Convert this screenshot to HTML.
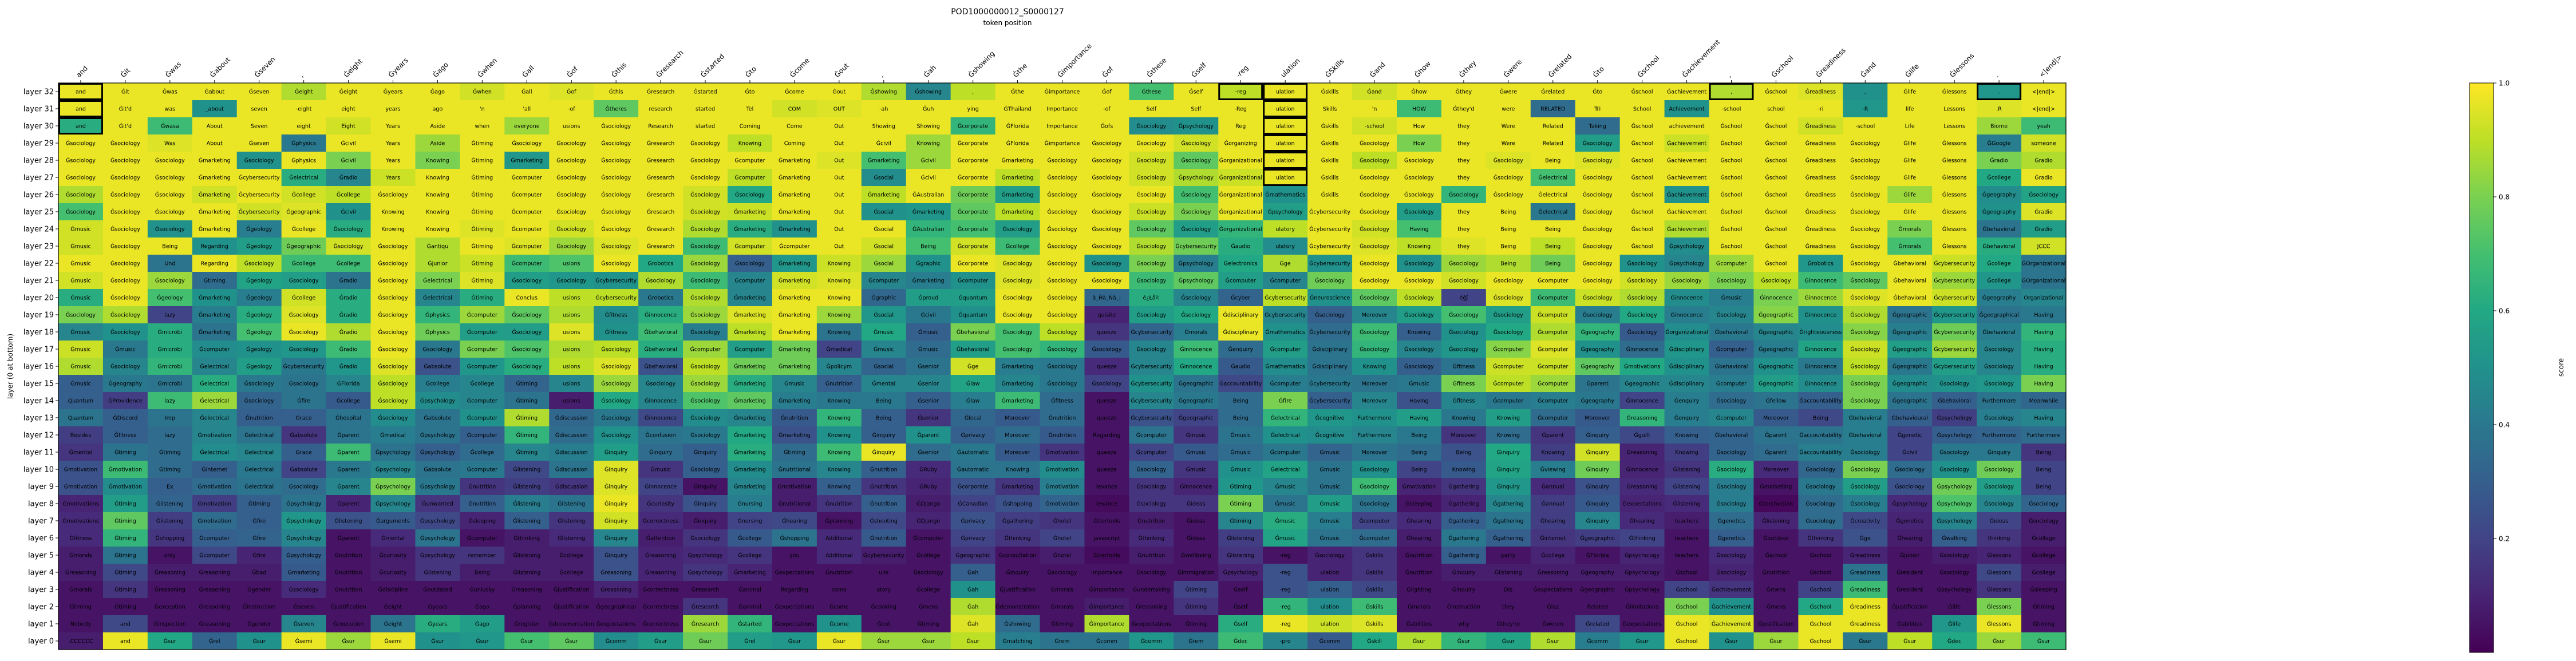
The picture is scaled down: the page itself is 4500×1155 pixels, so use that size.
<!DOCTYPE html>
<html><head><meta charset="utf-8">
<style>
html,body{margin:0;padding:0;background:#fff;}
svg{display:block;font-family:"DejaVu Sans","Liberation Sans","Noto Sans CJK SC",sans-serif;}
</style></head>
<body>
<svg id="chart" width="4500" height="1155" viewBox="0 0 4500 1155" xmlns="http://www.w3.org/2000/svg">
<text x="1760" y="25" font-size="14" text-anchor="middle">POD1000000012_S0000127</text>
<text x="1760" y="44" font-size="12" text-anchor="middle">token position</text>
<text x="0" y="0" font-size="12" text-anchor="middle" transform="translate(22,640) rotate(-90)">layer (0 at bottom)</text>
<g id="cells"></g>
<g id="boxes"></g>
<g id="xticks"></g>
<g id="yticks"></g>
<g id="cbar"></g>
</svg>
<script>
const columnLabels = ["and","Ġit","Ġwas","Ġabout","Ġseven",",","Ġeight","Ġyears","Ġago","Ġwhen","Ġall","Ġof","Ġthis","Ġresearch","Ġstarted","Ġto","Ġcome","Ġout",",","Ġah","Ġshowing","Ġthe","Ġimportance","Ġof","Ġthese","Ġself","-reg","ulation","ĠSkills","Ġand","Ġhow","Ġthey","Ġwere","Ġrelated","Ġto","Ġschool","Ġachievement",",","Ġschool","Ġreadiness","Ġand","Ġlife","Ġlessons",".","<|end|>"];
const layerNames = [32,31,30,29,28,27,26,25,24,23,22,21,20,19,18,17,16,15,14,13,12,11,10,9,8,7,6,5,4,3,2,1,0];
const layerTokens = [
"and|Ġit|Ġwas|Ġabout|Ġseven|Ġeight|Ġeight|Ġyears|Ġago|Ġwhen|Ġall|Ġof|Ġthis|Ġresearch|Ġstarted|Ġto|Ġcome|Ġout|Ġshowing|Ġshowing|,|Ġthe|Ġimportance|Ġof|Ġthese|Ġself|-reg|ulation|Ġskills|Ġand|Ġhow|Ġthey|Ġwere|Ġrelated|Ġto|Ġschool|Ġachievement|,|Ġschool|Ġreadiness|,|Ġlife|Ġlessons|.|<|end|>",
"and|Ġit'd|was|_about|seven|-eight|eight|years|ago|'n|'all|-of|Ġtheres|research|started|Tel|COM|OUT|-ah|Ġuh|ying|ĠThailand|Importance|-of|Self|Self|-Reg|ulation|Skills|'n|HOW|Ġthey'd|were|RELATED|Tri|School|Achievement|-school|school|-ri|-R|life|Lessons|.R|<|end|>",
"and|Ġit'd|Ġwasa|About|Seven|eight|Eight|Years|Aside|when|everyone|usions|Ġsociology|Research|started|Coming|Come|Out|Showing|Showing|Ġcorporate|ĠFlorida|Importance|Ġofs|Ġsociology|Ġpsychology|Reg|ulation|Ġskills|-school|How|they|Were|Related|Taking|Ġschool|achievement|Ġschool|Ġschool|Ġreadiness|-school|Life|Lessons|Biome|yeah",
"Ġsociology|Ġsociology|Was|About|Ġseven|Ġphysics|Ġcivil|Years|Aside|Ġtiming|Ġsociology|Ġsociology|Ġsociology|Ġresearch|Ġsociology|Knowing|Coming|Out|Ġcivil|Knowing|Ġcorporate|ĠFlorida|Ġimportance|Ġsociology|Ġsociology|Ġsociology|Ġorganizing|ulation|Ġskills|Ġsociology|How|they|Were|Related|Ġsociology|Ġschool|Ġachievement|Ġschool|Ġschool|Ġreadiness|Ġsociology|Ġlife|Ġlessons|ĠGoogle|someone",
"Ġsociology|Ġsociology|Ġsociology|Ġmarketing|Ġsociology|Ġphysics|Ġcivil|Years|Knowing|Ġtiming|Ġmarketing|Ġsociology|Ġsociology|Ġresearch|Ġsociology|Ġcomputer|Ġmarketing|Out|Ġmarketing|Ġcivil|Ġcorporate|Ġmarketing|Ġsociology|Ġsociology|Ġsociology|Ġsociology|Ġorganizational|ulation|Ġskills|Ġsociology|Ġsociology|they|Ġsociology|Being|Ġsociology|Ġschool|Ġachievement|Ġschool|Ġschool|Ġreadiness|Ġsociology|Ġlife|Ġlessons|Ġradio|Ġradio",
"Ġsociology|Ġsociology|Ġsociology|Ġmarketing|Ġcybersecurity|Ġelectrical|Ġradio|Years|Knowing|Ġtiming|Ġcomputer|Ġsociology|Ġsociology|Ġresearch|Ġsociology|Ġcomputer|Ġmarketing|Out|Ġsocial|Ġcivil|Ġcorporate|Ġmarketing|Ġsociology|Ġsociology|Ġsociology|Ġpsychology|Ġorganizational|ulation|Ġskills|Ġsociology|Ġsociology|they|Ġsociology|Ġelectrical|Ġsociology|Ġschool|Ġachievement|Ġschool|Ġschool|Ġreadiness|Ġsociology|Ġlife|Ġlessons|Ġcollege|Ġradio",
"Ġsociology|Ġsociology|Ġsociology|Ġmarketing|Ġcybersecurity|Ġcollege|Ġcollege|Ġsociology|Knowing|Ġtiming|Ġcomputer|Ġsociology|Ġsociology|Ġresearch|Ġsociology|Ġsociology|Ġmarketing|Out|Ġmarketing|ĠAustralian|Ġcorporate|Ġmarketing|Ġsociology|Ġsociology|Ġsociology|Ġsociology|Ġorganizational|Ġmathematics|Ġskills|Ġsociology|Ġsociology|Ġsociology|Ġsociology|Ġelectrical|Ġsociology|Ġschool|Ġachievement|Ġschool|Ġschool|Ġreadiness|Ġsociology|Ġlife|Ġlessons|Ġgeography|Ġsociology",
"Ġsociology|Ġsociology|Ġsociology|Ġmarketing|Ġcybersecurity|Ġgeographic|Ġcivil|Knowing|Knowing|Ġtiming|Ġcomputer|Ġsociology|Ġsociology|Ġresearch|Ġsociology|Ġmarketing|Ġmarketing|Out|Ġsocial|Ġmarketing|Ġcorporate|Ġmarketing|Ġsociology|Ġsociology|Ġsociology|Ġsociology|Ġorganizational|Ġpsychology|Ġcybersecurity|Ġsociology|Ġsociology|they|Being|Ġelectrical|Ġsociology|Ġschool|Ġachievement|Ġschool|Ġschool|Ġreadiness|Ġsociology|Ġlife|Ġlessons|Ġgeography|Ġradio",
"Ġmusic|Ġsociology|Ġsociology|Ġmarketing|Ġgeology|Ġcollege|Ġsociology|Knowing|Knowing|Ġtiming|Ġcomputer|Ġsociology|Ġsociology|Ġresearch|Ġsociology|Ġmarketing|Ġmarketing|Out|Ġsocial|ĠAustralian|Ġcorporate|Ġsociology|Ġsociology|Ġsociology|Ġsociology|Ġsociology|Ġorganizational|ulatory|Ġcybersecurity|Ġsociology|Having|they|Being|Being|Ġsociology|Ġschool|Ġachievement|Ġschool|Ġschool|Ġreadiness|Ġsociology|Ġmorals|Ġlessons|Ġbehavioral|Ġradio",
"Ġmusic|Ġsociology|Being|Regarding|Ġgeology|Ġgeographic|Ġsociology|Ġsociology|Ġantiqu|Ġtiming|Ġcomputer|Ġsociology|Ġsociology|Ġresearch|Ġsociology|Ġcomputer|Ġcomputer|Out|Ġsocial|Being|Ġcorporate|Ġcollege|Ġsociology|Ġsociology|Ġsociology|Ġcybersecurity|Ġaudio|ulatory|Ġcybersecurity|Ġsociology|Knowing|they|Being|Being|Ġsociology|Ġschool|Ġpsychology|Ġschool|Ġschool|Ġreadiness|Ġsociology|Ġmorals|Ġlessons|Ġbehavioral|JCCC",
"Ġmusic|Ġsociology|Und|Regarding|Ġsociology|Ġcollege|Ġcollege|Ġsociology|Ġjunior|Ġtiming|Ġcomputer|usions|Ġsociology|Ġrobotics|Ġsociology|Ġsociology|Ġmarketing|Knowing|Ġsocial|Ġgraphic|Ġcorporate|Ġsociology|Ġsociology|Ġsociology|Ġsociology|Ġpsychology|Ġelectronics|Ġge|Ġcybersecurity|Ġsociology|Ġsociology|Ġsociology|Being|Being|Ġsociology|Ġsociology|Ġpsychology|Ġcomputer|Ġschool|Ġrobotics|Ġsociology|Ġbehavioral|Ġcybersecurity|Ġcollege|ĠOrganizational",
"Ġmusic|Ġsociology|Ġsociology|Ġtiming|Ġgeology|Ġsociology|Ġradio|Ġsociology|Ġelectrical|Ġtiming|Ġsociology|Ġsociology|Ġcybersecurity|Ġsociology|Ġsociology|Ġcomputer|Ġmarketing|Knowing|Ġcomputer|Ġmarketing|Ġcomputer|Ġsociology|Ġsociology|Ġsociology|Ġsociology|Ġpsychology|Ġcomputer|Ġcomputer|Ġsociology|Ġsociology|Ġsociology|Ġsociology|Ġsociology|Ġcomputer|Ġsociology|Ġsociology|Ġsociology|Ġsociology|Ġsociology|Ġinnocence|Ġsociology|Ġbehavioral|Ġcybersecurity|Ġcollege|ĠOrganizational",
"Ġmusic|Ġsociology|Ġgeology|Ġmarketing|Ġgeology|Ġcollege|Ġradio|Ġsociology|Ġelectrical|Ġtiming|Conclus|usions|Ġcybersecurity|Ġrobotics|Ġsociology|Ġmarketing|Ġmarketing|Knowing|Ġgraphic|Ġproud|Ġquantum|Ġsociology|Ġsociology|à¸Ĥà¸Ńà¸¡|è¿Łåº¦|Ġsociology|Ġcyber|Ġcybersecurity|Ġneuroscience|Ġsociology|Ġsociology|éģĵ|Ġsociology|Ġcomputer|Ġsociology|Ġsociology|Ġinnocence|Ġmusic|Ġinnocence|Ġinnocence|Ġsociology|Ġbehavioral|Ġcybersecurity|Ġgeography|Organizational",
"Ġsociology|Ġsociology|lazy|Ġmarketing|Ġgeology|Ġsociology|Ġradio|Ġsociology|Ġphysics|Ġcomputer|Ġsociology|usions|Ġfitness|Ġinnocence|Ġsociology|Ġmarketing|Ġmarketing|Knowing|Ġsocial|Ġcivil|Ġquantum|Ġsociology|Ġsociology|quisite|Ġsociology|Ġsociology|Ġdisciplinary|Ġcybersecurity|Ġsociology|Moreover|Ġsociology|Ġsociology|Ġsociology|Ġcomputer|Ġsociology|Ġsociology|Ġinnocence|Ġsociology|Ġgeographic|Ġinnocence|Ġsociology|Ġgeographic|Ġcybersecurity|Ġgeographical|Having",
"Ġmusic|Ġsociology|Ġmicrobi|Ġmarketing|Ġgeology|Ġsociology|Ġradio|Ġsociology|Ġphysics|Ġcomputer|Ġsociology|usions|Ġfitness|Ġbehavioral|Ġsociology|Ġmarketing|Ġmarketing|Knowing|Ġmusic|Ġmusic|Ġbehavioral|Ġsociology|Ġsociology|queeze|Ġcybersecurity|Ġmorals|Ġdisciplinary|Ġmathematics|Ġcybersecurity|Ġsociology|Knowing|Ġsociology|Ġsociology|Ġcomputer|Ġgeography|Ġsociology|Ġorganizational|Ġbehavioral|Ġgeographic|Ġrighteousness|Ġsociology|Ġgeographic|Ġcybersecurity|Ġbehavioral|Having",
"Ġmusic|Ġmusic|Ġmicrobi|Ġcomputer|Ġgeology|Ġsociology|Ġradio|Ġsociology|Ġsociology|Ġcomputer|Ġsociology|usions|Ġsociology|Ġbehavioral|Ġcomputer|Ġcomputer|Ġmarketing|Ġmedical|Ġmusic|Ġmusic|Ġbehavioral|Ġsociology|Ġsociology|Ġsociology|Ġsociology|Ġinnocence|Ġenquiry|Ġcomputer|Ġdisciplinary|Ġsociology|Ġsociology|Ġsociology|Ġcomputer|Ġcomputer|Ġgeography|Ġinnocence|Ġdisciplinary|Ġcomputer|Ġgeographic|Ġinnocence|Ġsociology|Ġgeographic|Ġcybersecurity|Ġsociology|Having",
"Ġmusic|Ġsociology|Ġmicrobi|Ġelectrical|Ġgeology|Ġcybersecurity|Ġradio|Ġsociology|Ġabsolute|Ġcomputer|Ġsociology|usions|Ġsociology|Ġbehavioral|Ġsociology|Ġmarketing|Ġmarketing|Ġpolicym|Ġsocial|Ġsenior|Ġge|Ġmarketing|Ġsociology|queeze|Ġcybersecurity|Ġinnocence|Ġaudio|Ġmathematics|Ġdisciplinary|Knowing|Ġsociology|Ġfitness|Ġcomputer|Ġcomputer|Ġgeography|Ġmotivations|Ġdisciplinary|Ġbehavioral|Ġgeographic|Ġinnocence|Ġsociology|Ġgeographic|Ġcybersecurity|Ġsociology|Having",
"Ġmusic|Ġgeography|Ġmicrobi|Ġelectrical|Ġsociology|Ġsociology|ĠFlorida|Ġsociology|Ġcollege|Ġcollege|Ġtiming|usions|Ġsociology|Ġsociology|Ġsociology|Ġmarketing|Ġmusic|Ġnutrition|Ġmental|Ġsenior|Ġlaw|Ġmarketing|Ġsociology|Ġsociology|Ġcybersecurity|Ġgeographic|Ġaccountability|Ġcomputer|Ġcybersecurity|Moreover|Ġmusic|Ġfitness|Ġcomputer|Ġcomputer|Ġparent|Ġgeographic|Ġdisciplinary|Ġcomputer|Ġgeographic|Ġinnocence|Ġsociology|Ġgeographic|Ġsociology|Ġsociology|Having",
"Quantum|ĠProvidence|lazy|Ġelectrical|Ġsociology|Ġfire|Ġcollege|Ġsociology|Ġpsychology|Ġcomputer|Ġtiming|usions|Ġsociology|Ġinnocence|Ġsociology|Ġmarketing|Ġmarketing|Knowing|Being|Ġsenior|Ġlaw|Ġmarketing|Ġfitness|queeze|Ġcybersecurity|Ġgeographic|Being|Ġfire|Ġcybersecurity|Moreover|Having|Ġfitness|Ġcomputer|Ġcomputer|Ġgeography|Ġinnocence|Ġenquiry|Ġsociology|Ġfellow|Ġaccountability|Ġsociology|Ġgeographic|Ġbehavioral|Furthermore|Meanwhile",
"Quantum|ĠDiscord|Imp|Ġelectrical|Ġnutrition|Grace|Ġhospital|Ġsociology|Ġabsolute|Ġcomputer|Ġtiming|Ġdiscussion|Ġsociology|Ġinnocence|Ġsociology|Ġmarketing|Ġnutrition|Knowing|Being|Ġsenior|Ġlocal|Moreover|Ġnutrition|queeze|Ġcybersecurity|Ġgeographic|Being|Ġelectrical|Ġcognitive|Furthermore|Having|Knowing|Knowing|Ġcomputer|Moreover|Ġreasoning|Ġenquiry|Ġcomputer|Moreover|Being|Ġbehavioral|Ġbehavioural|Ġpsychology|Ġsociology|Having",
"Besides|Ġfitness|lazy|Ġmotivation|Ġelectrical|Ġabsolute|Ġparent|Ġmedical|Ġpsychology|Ġcomputer|Ġtiming|Ġdiscussion|Ġsociology|Ġconfusion|Ġsociology|Ġmarketing|Ġmarketing|Knowing|Ġinquiry|Ġparent|Ġprivacy|Moreover|Ġnutrition|Regarding|Ġcomputer|Ġmusic|Ġmusic|Ġelectrical|Ġcognitive|Furthermore|Being|Moreover|Knowing|Ġparent|Ġinquiry|Ġguilt|Knowing|Ġbehavioral|Ġparent|Ġaccountability|Ġbehavioral|Ġgenetic|Ġpsychology|Furthermore|Furthermore",
"Ġmental|Ġtiming|Ġtiming|Ġelectrical|Ġelectrical|Grace|Ġparent|Ġpsychology|Ġpsychology|Ġcollege|Ġtiming|Ġdiscussion|Ġinquiry|Ġinquiry|Ġinquiry|Ġmarketing|Ġtiming|Knowing|Ġinquiry|Ġsenior|Ġautomatic|Moreover|Ġmotivation|queeze|Ġcomputer|Ġmusic|Ġmusic|Ġcomputer|Ġmusic|Moreover|Being|Being|Ġinquiry|Knowing|Ġinquiry|Ġreasoning|Knowing|Ġsociology|Ġparent|Ġaccountability|Ġsociology|Ġcivil|Ġsociology|Ġinquiry|Being",
"Ġmotivation|Ġmotivation|Ġtiming|Ġinternet|Ġelectrical|Ġabsolute|Ġparent|Ġpsychology|Ġabsolute|Ġcomputer|Ġlistening|Ġdiscussion|Ġinquiry|Ġmusic|Ġsociology|Ġmarketing|Ġnutritional|Knowing|Ġnutrition|ĠRuby|Ġautomatic|Knowing|Ġmotivation|queeze|Ġsociology|Ġmusic|Ġmusic|Ġelectrical|Ġmusic|Ġsociology|Being|Knowing|Ġinquiry|Ġviewing|Ġinquiry|Ġinnocence|Ġlistening|Ġsociology|Moreover|Ġsociology|Ġsociology|Ġsociology|Ġsociology|Ġsociology|Being",
"Ġmotivation|Ġmotivation|Ex|Ġmotivation|Ġelectrical|Ġsociology|Ġparent|Ġpsychology|Ġpsychology|Ġnutrition|Ġlistening|Ġdiscussion|Ġinquiry|Ġinnocence|Ġinquiry|Ġmarketing|Ġmotivation|Knowing|Ġnutrition|ĠRuby|Ġcorporate|Ġmarketing|Ġmotivation|levance|Ġsociology|Ġinnocence|Ġtiming|Ġmusic|Ġmusic|Ġsociology|Ġmotivation|Ġgathering|Ġinquiry|Ġannual|Ġinquiry|Ġreasoning|Ġlistening|Ġsociology|Ġmarketing|Ġsociology|Ġsociology|Ġsociology|Ġpsychology|Ġsociology|Being",
"Ġmotivations|Ġtiming|Ġlistening|Ġmotivation|Ġtiming|Ġpsychology|Ġparent|Ġpsychology|Ġunwanted|Ġnutrition|Ġlistening|Ġlistening|Ġinquiry|Ġcuriosity|Ġinquiry|Ġnursing|Ġnutritional|Ġnutrition|Ġnutrition|ĠDjango|ĠCanadian|Ġshopping|Ġmotivation|levance|Ġsociology|Ġideas|Ġtiming|Ġmusic|Ġmusic|Ġsociology|Ġsleeping|Ġgathering|Ġgathering|Ġannual|Ġinquiry|Ġexpectations|Ġlistening|Ġsociology|Ġtorchvision|Ġsociology|Ġsociology|Ġpsychology|Ġpsychology|Ġsociology|Ġsociology",
"Ġmotivations|Ġtiming|Ġlistening|Ġmotivation|Ġfire|Ġpsychology|Ġlistening|Ġarguments|Ġpsychology|Ġsleeping|Ġlistening|Ġlistening|Ġinquiry|Ġcorrectness|Ġinquiry|Ġnursing|Ġhearing|Ġplanning|Ġshooting|ĠDjango|Ġprivacy|Ġgathering|Ġhotel|Ġitertools|Ġnutrition|Ġideas|Ġtiming|Ġmusic|Ġmusic|Ġcomputer|Ġhearing|Ġgathering|Ġgathering|Ġhearing|Ġinquiry|Ġhearing|teachers|Ġgenetics|Ġlistening|Ġsociology|Ġcreativity|Ġgenetics|Ġpsychology|Ġideas|Ġsociology",
"Ġfitness|Ġtiming|Ġshopping|Ġcomputer|Ġfire|Ġpsychology|Ġparent|Ġmental|Ġpsychology|Ġcomputer|Ġthinking|Ġlistening|Ġinquiry|Ġattention|Ġsociology|Ġcollege|Ġshopping|Additional|Ġnutrition|Ġcomputer|Ġprivacy|Ġthinking|Ġhotel|javascript|Ġthinking|Ġideas|Ġlistening|Ġmusic|Ġmusic|Ġcomputer|Ġhearing|Ġgathering|Ġgathering|Ġinternet|Ġgeographic|Ġthinking|teachers|Ġgenetics|Ġoutdoor|Ġthinking|Ġge|Ġhearing|Ġwalking|thinking|Ġcollege",
"Ġmorals|Ġtiming|only|Ġcomputer|Ġfire|Ġpsychology|Ġnutrition|Ġcuriosity|Ġpsychology|remember|Ġlistening|Ġcollege|Ġinquiry|Ġreasoning|Ġpsychology|Ġcollege|you|Additional|Ġcybersecurity|Ġcollege|Ġgeographic|Ġconsultation|Ġhotel|Ġitertools|Ġnutrition|Ġwellbeing|Ġlistening|-reg|Ġsociology|Ġskills|Ġnutrition|Ġgathering|party|Ġcollege|ĠFlorida|Ġpsychology|teachers|Ġsociology|Ġschool|Ġschool|Ġreadiness|Ġjunior|Ġsociology|Ġlessons|Ġcollege",
"Ġreasoning|Ġtiming|Ġreasoning|Ġreasoning|Ġbad|Ġmarketing|Ġnutrition|Ġcuriosity|Ġlistening|Being|Ġlistening|Ġcollege|Ġreasoning|Ġreasoning|Ġpsychology|Ġmarketing|Ġexpectations|Ġnutrition|ulle|Ġsociology|Ġah|Ġinquiry|Ġsociology|importance|Ġsociology|Ġimmigration|Ġpsychology|-reg|ulation|Ġskills|Ġnutrition|Ġinquiry|Ġlistening|Ġreasoning|Ġgeography|Ġpsychology|Ġschool|Ġsociology|Ġnutrition|Ġschool|Ġreadiness|Ġresident|Ġsociology|Ġlessons|Ġcollege",
"Ġmorals|Ġtiming|Ġreasoning|Ġreasoning|Ġgender|Ġsociology|Ġnutrition|Ġdiscipline|Ġoutdated|Ġunlucky|Ġreasoning|Ġjustification|Ġreasoning|Ġcorrectness|Ġresearch|Ġanimal|Regarding|come|atory|Ġcollege|Ġah|Ġjustification|Ġmorals|Ġimportance|Ġundertaking|Ġtiming|Ġself|-reg|ulation|Ġskills|Ġlighting|Ġinquiry|Dis|Ġexpectations|Ġgeographic|Ġpsychology|Ġschool|Ġachievement|Ġmens|Ġschool|Ġreadiness|Ġresident|Ġpsychology|Ġlessons|Ġsleeping",
"Ġtiming|Ġtiming|Ġexception|Ġreasoning|Ġinstruction|Ġseven|Ġjustification|Ġeight|Ġyears|Ġago|Ġplanning|Ġjustification|Ġgeographical|Ġcorrectness|Ġresearch|Ġanimal|Ġexpectations|Ġcome|Ġcooking|Ġmens|Ġah|Ġdemonstration|Ġmorals|Ġimportance|Ġreasoning|Ġtiming|Ġself|-reg|ulation|Ġskills|Ġmorals|Ġinstruction|they|Ġlaz|Related|Ġlimitations|Ġschool|Ġachievement|Ġmens|Ġschool|Ġreadiness|Ġjustification|Ġlife|Ġlessons|Ġtiming",
"Nobody|and|Ġinspection|Ġreasoning|Ġgender|Ġseven|Ġexecution|Ġeight|Ġyears|Ġago|Ġregister|Ġdocumentation|Ġexpectations|Ġcorrectness|Ġresearch|Ġstarted|Ġexpectations|Ġcome|Ġout|Ġtiming|Ġah|Ġshowing|Ġtiming|Ġimportance|Ġexpectations|Ġtiming|Ġself|-reg|ulation|Ġskills|Ġabilities|why|Ġthey're|Ġweren|Ġrelated|Ġexpectations|Ġschool|Ġachievement|Ġjustification|Ġschool|Ġreadiness|Ġabilities|Ġlife|Ġlessons|Ġtiming",
".CCCCCC|and|Ġsur|Ġrel|Ġsur|Ġsemi|Ġsur|Ġsemi|Ġsur|Ġsur|Ġsur|Ġsur|Ġcomm|Ġsur|Ġsur|Ġrel|Ġsur|Ġsur|Ġsur|Ġsur|Ġsur|Ġmatching|Ġrem|Ġcomm|Ġcomm|Ġrem|Ġdec|-pro|Ġcomm|Ġskill|Ġsur|Ġsur|Ġsur|Ġsur|Ġcomm|Ġsur|Ġschool|Ġsur|Ġsur|Ġschool|Ġsur|Ġsur|Ġdec|Ġsur|Ġsur"
];
const layerScores = [
[.97,.97,.97,.97,.97,.88,.97,.97,.97,.93,.97,.95,.97,.97,.97,.97,.97,.97,.88,.45,.9,.97,.97,.97,.7,.97,.9,.97,.97,.93,.97,.97,.97,.97,.97,.97,.97,.88,.97,.95,.5,.97,.97,.52,.97],
[.97,.97,.97,.5,.97,.97,.97,.97,.97,.97,.97,.97,.75,.97,.97,.97,.93,.95,.97,.97,.97,.97,.97,.97,.97,.97,.97,.97,.97,.97,.68,.97,.97,.35,.97,.97,.5,.97,.97,.97,.52,.97,.97,.95,.97],
[.62,.97,.68,.97,.97,.97,.93,.97,.97,.97,.85,.97,.97,.97,.97,.97,.97,.97,.97,.97,.65,.97,.97,.97,.48,.5,.97,.97,.97,.93,.97,.97,.97,.97,.35,.97,.97,.97,.97,.93,.97,.97,.97,.85,.68],
[.97,.97,.95,.97,.97,.4,.97,.97,.85,.97,.97,.97,.97,.97,.97,.9,.97,.97,.97,.85,.97,.97,.97,.97,.97,.93,.97,.97,.97,.97,.8,.97,.97,.97,.55,.97,.92,.97,.97,.97,.97,.97,.97,.42,.93],
[.97,.97,.97,.97,.5,.97,.8,.97,.8,.97,.52,.97,.97,.97,.97,.97,.97,.95,.7,.85,.97,.97,.97,.97,.93,.75,.97,.97,.97,.9,.97,.97,.95,.97,.95,.97,.97,.97,.97,.97,.97,.97,.97,.8,.88],
[.97,.97,.97,.97,.97,.62,.45,.92,.97,.97,.97,.97,.97,.97,.97,.9,.97,.97,.48,.97,.97,.9,.97,.97,.93,.88,.92,.97,.97,.97,.97,.97,.97,.7,.97,.97,.97,.97,.97,.97,.97,.97,.97,.6,.97],
[.88,.97,.97,.93,.97,.93,.9,.97,.97,.97,.97,.97,.97,.97,.93,.6,.97,.97,.9,.97,.78,.55,.97,.97,.97,.7,.97,.5,.97,.97,.97,.65,.97,.97,.97,.97,.5,.97,.97,.97,.97,.85,.97,.48,.58],
[.7,.97,.97,.97,.93,.95,.5,.97,.97,.97,.97,.97,.97,.97,.93,.92,.97,.97,.5,.52,.75,.9,.97,.97,.92,.8,.97,.55,.97,.97,.55,.97,.97,.4,.97,.97,.97,.97,.97,.97,.97,.97,.97,.5,.95],
[.93,.97,.5,.97,.42,.97,.62,.97,.97,.95,.97,.93,.97,.97,.88,.62,.5,.97,.97,.65,.7,.55,.97,.97,.75,.55,.65,.9,.97,.93,.7,.97,.97,.97,.97,.97,.88,.97,.97,.97,.97,.8,.97,.38,.55],
[.93,.97,.97,.5,.55,.78,.93,.97,.88,.97,.95,.85,.95,.97,.68,.93,.97,.97,.93,.7,.93,.68,.97,.97,.88,.78,.62,.48,.97,.95,.9,.95,.97,.9,.97,.97,.48,.97,.97,.97,.97,.7,.97,.62,.93],
[.97,.97,.38,.97,.9,.68,.68,.97,.88,.92,.68,.72,.97,.6,.85,.3,.52,.92,.85,.5,.97,.95,.97,.5,.8,.42,.6,.88,.5,.97,.5,.85,.88,.78,.97,.5,.45,.85,.97,.52,.97,.97,.92,.6,.38],
[.93,.97,.85,.35,.58,.55,.38,.97,.8,.95,.55,.52,.5,.88,.68,.45,.93,.95,.45,.42,.5,.95,.97,.97,.68,.75,.55,.45,.78,.97,.97,.93,.97,.97,.97,.93,.85,.8,.9,.68,.75,.97,.85,.52,.38],
[.62,.97,.7,.5,.42,.93,.62,.97,.45,.62,.97,.9,.9,.4,.88,.45,.97,.97,.33,.55,.55,.97,.97,.33,.62,.45,.32,.9,.5,.75,.9,.2,.95,.68,.92,.88,.48,.42,.8,.85,.95,.97,.92,.42,.45],
[.8,.88,.2,.42,.62,.95,.62,.97,.65,.85,.75,.88,.48,.62,.85,.95,.97,.85,.52,.4,.5,.97,.97,.1,.55,.6,.97,.45,.3,.45,.55,.7,.55,.92,.42,.6,.42,.45,.82,.5,.88,.38,.52,.38,.4],
[.45,.5,.62,.38,.7,.97,.88,.97,.78,.55,.55,.95,.5,.68,.42,.9,.97,.38,.6,.3,.8,.7,.9,.15,.32,.42,.97,.5,.35,.68,.3,.5,.6,.88,.65,.28,.48,.4,.45,.48,.82,.42,.78,.42,.65],
[.92,.4,.62,.48,.5,.52,.68,.97,.4,.8,.72,.88,.9,.62,.85,.55,.78,.2,.45,.35,.55,.7,.65,.28,.45,.68,.35,.55,.38,.65,.45,.52,.82,.95,.5,.35,.52,.3,.42,.58,.92,.55,.85,.45,.62],
[.88,.45,.65,.45,.55,.4,.52,.95,.25,.52,.62,.9,.95,.25,.9,.78,.78,.45,.32,.38,.93,.42,.4,.12,.45,.6,.28,.48,.38,.5,.3,.38,.92,.92,.75,.6,.5,.38,.5,.4,.9,.4,.55,.45,.62],
[.3,.4,.38,.62,.4,.38,.45,.9,.42,.45,.32,.45,.85,.45,.85,.62,.45,.3,.45,.45,.58,.45,.4,.2,.5,.38,.22,.42,.4,.38,.4,.8,.9,.85,.38,.45,.45,.42,.55,.48,.8,.48,.5,.52,.8],
[.3,.18,.68,.85,.32,.38,.28,.9,.48,.45,.38,.08,.6,.45,.72,.75,.42,.4,.4,.3,.42,.68,.35,.05,.45,.4,.35,.8,.3,.45,.25,.45,.4,.42,.4,.2,.42,.35,.38,.3,.8,.38,.3,.38,.33],
[.38,.3,.38,.45,.3,.3,.38,.48,.38,.5,.88,.33,.4,.22,.48,.45,.28,.65,.3,.15,.33,.28,.35,.05,.25,.2,.35,.65,.52,.5,.55,.4,.55,.35,.28,.65,.42,.45,.28,.22,.42,.3,.18,.42,.45],
[.18,.3,.35,.45,.38,.15,.38,.42,.38,.3,.65,.35,.5,.38,.4,.6,.25,.5,.3,.5,.3,.35,.28,.05,.38,.15,.38,.5,.48,.45,.4,.15,.35,.15,.3,.22,.3,.32,.38,.38,.42,.2,.3,.32,.35],
[.15,.38,.35,.48,.45,.3,.68,.38,.3,.35,.45,.42,.55,.35,.3,.62,.35,.68,.97,.35,.4,.28,.15,.05,.2,.28,.35,.4,.32,.38,.35,.25,.6,.18,.93,.1,.18,.32,.35,.42,.42,.2,.4,.4,.15],
[.25,.68,.35,.3,.4,.2,.4,.45,.38,.4,.22,.38,.95,.15,.3,.48,.38,.45,.3,.12,.38,.38,.48,.05,.32,.15,.5,.58,.38,.5,.2,.28,.58,.42,.78,.1,.15,.62,.12,.33,.8,.35,.5,.78,.2],
[.25,.48,.3,.35,.38,.35,.45,.8,.4,.15,.18,.15,.95,.2,.05,.45,.08,.3,.15,.1,.25,.15,.42,.05,.15,.1,.52,.45,.38,.68,.1,.15,.52,.12,.25,.12,.2,.42,.05,.4,.55,.25,.78,.55,.2],
[.1,.55,.32,.18,.3,.38,.1,.45,.15,.3,.42,.38,.97,.15,.25,.42,.08,.15,.3,.08,.2,.25,.32,.03,.15,.15,.8,.38,.55,.38,.05,.1,.45,.18,.28,.1,.12,.42,.02,.35,.42,.12,.72,.45,.32],
[.12,.75,.18,.35,.3,.52,.25,.28,.22,.1,.3,.15,.93,.12,.08,.2,.22,.05,.22,.1,.25,.18,.15,.05,.08,.05,.45,.62,.42,.2,.12,.3,.38,.18,.45,.12,.08,.35,.1,.35,.22,.1,.45,.2,.08],
[.12,.65,.15,.3,.32,.45,.05,.12,.38,.05,.08,.12,.45,.08,.15,.28,.38,.12,.28,.05,.2,.15,.2,.05,.12,.05,.18,.58,.38,.35,.08,.4,.3,.15,.18,.2,.05,.3,.05,.15,.25,.08,.3,.15,.08],
[.08,.38,.05,.22,.1,.3,.05,.08,.15,.15,.08,.08,.25,.1,.12,.15,.05,.12,.08,.05,.15,.05,.08,.03,.08,.05,.15,.05,.1,.15,.05,.3,.05,.1,.05,.1,.05,.12,.05,.05,.1,.05,.08,.1,.05],
[.08,.22,.08,.08,.08,.28,.05,.08,.15,.08,.08,.08,.25,.1,.15,.1,.05,.05,.05,.05,.3,.05,.05,.05,.05,.05,.1,.25,.1,.15,.05,.08,.08,.08,.08,.08,.05,.1,.05,.05,.38,.05,.05,.22,.08],
[.05,.15,.05,.05,.05,.12,.05,.05,.05,.05,.05,.05,.1,.05,.05,.05,.05,.05,.05,.05,.5,.05,.05,.05,.05,.2,.05,.25,.3,.22,.05,.05,.05,.05,.05,.05,.2,.15,.05,.2,.68,.05,.05,.15,.05],
[.05,.05,.05,.05,.05,.05,.05,.05,.05,.05,.05,.05,.05,.05,.15,.05,.05,.05,.05,.05,.88,.05,.05,.08,.05,.15,.05,.65,.48,.68,.05,.05,.05,.05,.05,.05,.8,.5,.05,.6,.97,.05,.05,.8,.05],
[.05,.22,.05,.05,.05,.45,.05,.38,.62,.55,.05,.05,.05,.05,.85,.65,.05,.5,.05,.05,.95,.35,.05,.88,.05,.05,.62,.97,.92,.95,.05,.05,.05,.05,.22,.05,.97,.95,.05,.97,.97,.05,.52,.97,.05],
[.08,.97,.6,.32,.5,.97,.85,.97,.5,.52,.7,.75,.48,.55,.78,.55,.52,.97,.85,.85,.9,.42,.38,.38,.52,.38,.68,.45,.28,.6,.88,.65,.58,.88,.42,.52,.97,.5,.85,.97,.4,.9,.6,.85,.68]
];
const boxLayers = [32,31,30,32,32,31,30,29,28,27,32,32];
const boxCols = [1,1,1,27,28,28,28,28,28,28,38,44];
const cbarTicks = [0.2,0.4,0.6,0.8,1.0];

const NS="http://www.w3.org/2000/svg";
const X0=102, X1=3609, Y0=145, RH=30;
const CW=(X1-X0)/columnLabels.length;
function xPos(c){return X0+c*CW;}
function yPos(r){return Y0+r*RH;}
const VIR=["#440154","#482475","#414487","#355f8d","#2a788e","#21918c","#22a884","#44bf70","#7ad151","#bddf26","#fde725"];
function hex(h){return [1,3,5].map(i=>parseInt(h.substr(i,2),16));}
function viridis(v){v=Math.max(0,Math.min(1,v));const f=v*10,i=Math.min(9,Math.floor(f)),t=f-i;const a=hex(VIR[i]),b=hex(VIR[i+1]);return "rgb("+a.map((x,k)=>Math.round(x+(b[k]-x)*t)).join(",")+")";}
function mk(tag,attrs,parent){const e=document.createElementNS(NS,tag);for(const k in attrs)e.setAttribute(k,attrs[k]);parent.appendChild(e);return e;}

const cells=document.getElementById("cells");
layerTokens.forEach((rowStr,r)=>{
  const toks=rowStr.split("|").reduce((acc,t)=>{ if(t==="end"&&acc.length&&acc[acc.length-1]==="<"){acc.pop();acc.push("<|end|>");} else if(t===">"&&acc.length&&acc[acc.length-1]==="<|end|>"){} else acc.push(t); return acc;},[]);
  for(let c=0;c<columnLabels.length;c++){
    const s=layerScores[r][c];
    const rect=mk("rect",{x:xPos(c),y:yPos(r),width:CW+0.6,height:RH+0.6,fill:viridis(s)},cells);
    
    
    const tx=mk("text",{x:xPos(c)+CW/2,y:yPos(r)+RH/2+3.5,"font-size":"9.5","text-anchor":"middle",fill:"#000"},cells);
    
    
    tx.textContent=toks[c]||"";
  }
});
mk("rect",{x:X0,y:Y0,width:X1-X0,height:RH*33,fill:"none",stroke:"#000","stroke-width":1.2},cells);

const boxes=document.getElementById("boxes");
boxLayers.forEach((L,i)=>{
  const r=layerNames.indexOf(L), c=boxCols[i]-1;
  const b=mk("rect",{x:xPos(c)+1.5,y:yPos(r)+1.5,width:CW-3,height:RH-3,fill:"none",stroke:"#000","stroke-width":3},boxes);
  
  
});

const xt=document.getElementById("xticks");
columnLabels.forEach((lab,c)=>{
  const cx=xPos(c)+CW/2;
  mk("line",{x1:cx,y1:Y0,x2:cx,y2:Y0-5,stroke:"#000","stroke-width":1},xt);
  const t=mk("text",{x:0,y:0,"font-size":"12","text-anchor":"start",transform:"translate("+(cx-3)+","+(Y0-9)+") rotate(-45)"},xt);
  
  
  t.textContent=lab;
});
const yt=document.getElementById("yticks");
layerNames.forEach((L,r)=>{
  const cy=yPos(r)+RH/2;
  mk("line",{x1:X0,y1:cy,x2:X0-5,y2:cy,stroke:"#000","stroke-width":1},yt);
  const t=mk("text",{x:X0-8,y:cy+4.5,"font-size":"13","text-anchor":"end"},yt);
  
  
  t.textContent="layer "+L;
});

const cb=document.getElementById("cbar");
const CBX=4314, CBW=42, CBY0=145, CBY1=1140;
const defs=mk("defs",{},cb);
const grad=mk("linearGradient",{id:"vg",x1:0,y1:1,x2:0,y2:0},defs);
VIR.forEach((col,i)=>mk("stop",{offset:(i*10)+"%","stop-color":col},grad));
const cbr=mk("rect",{x:CBX,y:CBY0,width:CBW,height:CBY1-CBY0,fill:"url(#vg)",stroke:"#000","stroke-width":1},cb);


function cbY(v){return CBY1-v*(CBY1-CBY0);}
cbarTicks.forEach(v=>{
  const y=cbY(v);
  mk("line",{x1:CBX+CBW,y1:y,x2:CBX+CBW+5,y2:y,stroke:"#000"},cb);
  const t=mk("text",{x:CBX+CBW+9,y:y+4.5,"font-size":"12"},cb);
  
  
  t.textContent=v.toFixed(1);
});
const cl=mk("text",{x:0,y:0,"font-size":"12","text-anchor":"middle",transform:"translate(4478,642) rotate(-90)"},cb);


cl.textContent="score";
</script>
</body></html>
